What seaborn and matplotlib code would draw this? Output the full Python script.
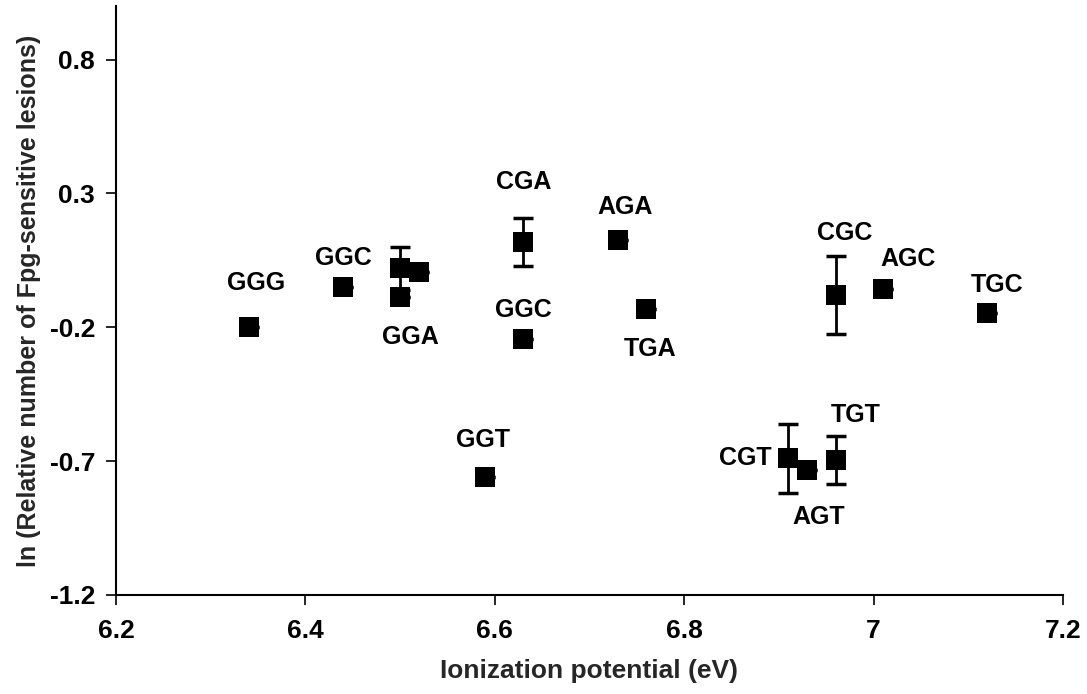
import matplotlib
matplotlib.use("Agg")
import matplotlib.pyplot as plt
import seaborn as sns
import pandas as pd

# ---- data ----
labels = ["GGG", "GGC", "", "", "GGA", "CGA", "AGA", "GGC", "TGA",
          "GGT", "CGT", "AGT", "TGT", "CGC", "AGC", "TGC"]
ionization = [6.34, 6.44, 6.50, 6.52, 6.50, 6.63, 6.73, 6.63, 6.76,
              6.59, 6.91, 6.93, 6.96, 6.96, 7.01, 7.12]
ln_lesions = [-0.20, -0.05, 0.02, 0.005, -0.087, 0.12, 0.125, -0.245, -0.133,
              -0.76, -0.69, -0.733, -0.696, -0.08, -0.056, -0.148]
errors = [0.0, 0.0, 0.08, 0.0, 0.0, 0.09, 0.0, 0.0, 0.0,
          0.0, 0.128, 0.0, 0.09, 0.145, 0.0, 0.0]

x_ticks = [6.2, 6.4, 6.6, 6.8, 7.0, 7.2]
x_tick_labels = ["6.2", "6.4", "6.6", "6.8", "7", "7.2"]
y_ticks = [-1.2, -0.7, -0.2, 0.3, 0.8]
y_tick_labels = ["-1.2", "-0.7", "-0.2", "0.3", "0.8"]

# label offsets in pixels (style)
label_offsets = [(7, 44), (0, 29), (0, 0), (0, 0), (10, -40), (0, 60), (7, 33),
                 (0, 29), (4, -40), (-2, 37), (-43, 0), (11, -47), (20, 45),
                 (9, 62), (25, 30), (10, 28)]

df = pd.DataFrame({"label": labels, "ip": ionization, "ln": ln_lesions, "err": errors})

sns.set_theme(style="ticks")
plt.rcParams["font.family"] = ["Liberation Sans", "DejaVu Sans"]
plt.rcParams["font.weight"] = "bold"

fig = plt.figure(figsize=(10.87, 6.94), dpi=100)
ax = fig.add_axes([116 / 1087, 99 / 694, (1063 - 116) / 1087, (595 - 6) / 694])

ax.errorbar(df["ip"], df["ln"], yerr=df["err"], fmt="none", ecolor="black",
            elinewidth=2, capsize=7.5, capthick=2.5, zorder=2)
sns.scatterplot(data=df, x="ip", y="ln", marker="s", color="black", s=210,
                edgecolor="black", linewidth=0, ax=ax, zorder=3, legend=False)

for lab, xv, yv, off in zip(labels, ionization, ln_lesions, label_offsets):
    if lab:
        ax.annotate(lab, (xv, yv), xytext=off, textcoords="offset pixels",
                    ha="center", va="center", fontsize=18, fontweight="bold",
                    color="black")

ax.set_xlim(6.2, 7.2)
ax.set_ylim(-1.2, 1.0)
ax.set_xticks(x_ticks)
ax.set_xticklabels(x_tick_labels)
ax.set_yticks(y_ticks)
ax.set_yticklabels(y_tick_labels)
ax.tick_params(axis="both", direction="out", length=7, width=1.2,
               labelsize=19, colors="black")
ax.tick_params(axis="x", pad=10)
ax.tick_params(axis="y", pad=8)
for t in ax.get_xticklabels() + ax.get_yticklabels():
    t.set_fontweight("bold")

sns.despine(ax=ax)
for sp in ["left", "bottom"]:
    ax.spines[sp].set_linewidth(1.5)
    ax.spines[sp].set_color("black")

ax.set_xlabel("Ionization potential (eV)", fontsize=19, fontweight="bold", labelpad=12)
ax.set_ylabel("ln (Relative number of Fpg-sensitive lesions)", fontsize=18,
              fontweight="bold", labelpad=6)

fig.savefig("out.png", dpi=100)
